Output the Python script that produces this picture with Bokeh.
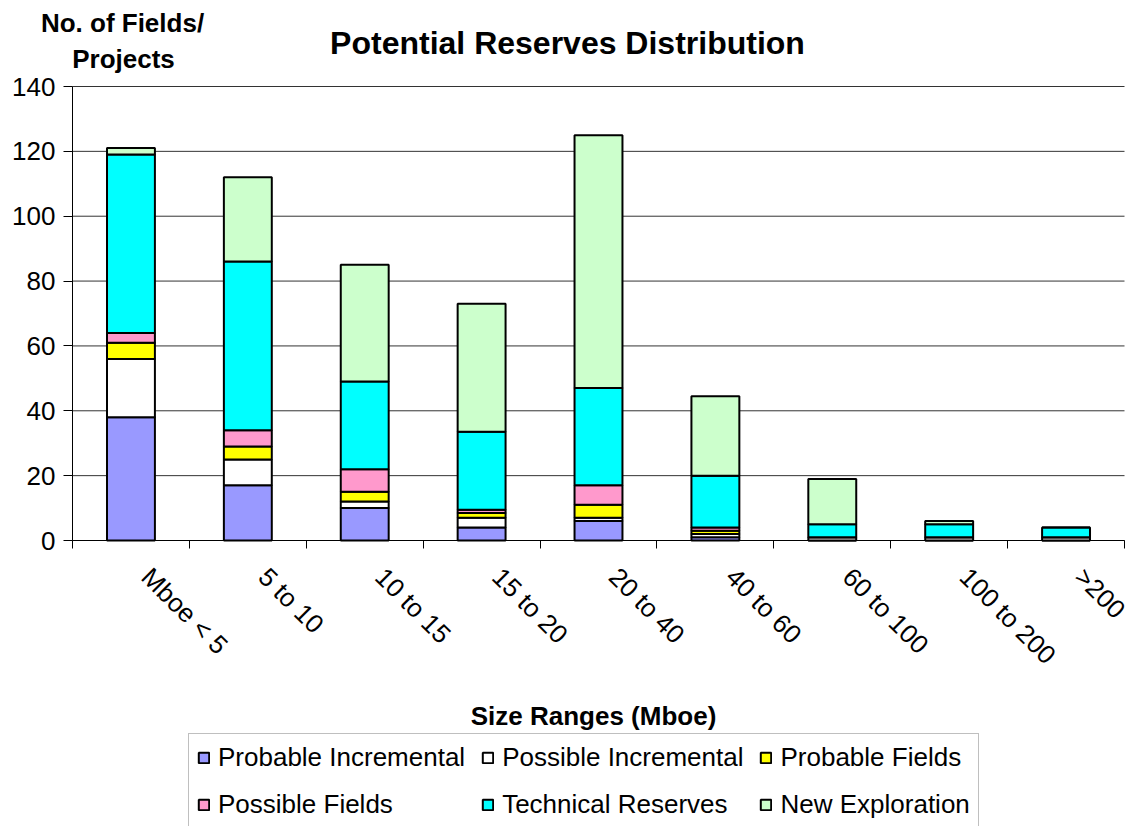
import math
from bokeh.plotting import figure
from bokeh.models import (Range1d, FixedTicker, LinearAxis, Legend, LegendItem, Label)
from bokeh.embed import file_html
from bokeh.resources import INLINE

categories = ["Mboe < 5", "5 to 10", "10 to 15", "15 to 20", "20 to 40",
              "40 to 60", "60 to 100", "100 to 200", ">200"]
probable_incremental = [38, 17, 10, 4, 6, 1, 0, 0, 0]
possible_incremental = [18, 8, 2, 3, 1, 1, 1, 1, 1]
probable_fields = [5, 4, 3, 1.5, 4, 1, 0, 0, 0]
possible_fields = [3, 5, 7, 1, 6, 1, 0, 0, 0]
technical_reserves = [55, 52, 27, 24, 30, 16, 4, 4, 3]
new_exploration = [2, 26, 36, 39.5, 78, 24.5, 14, 1, 0]

series_names = ["Probable Incremental", "Possible Incremental", "Probable Fields",
                "Possible Fields", "Technical Reserves", "New Exploration"]
series_keys = ["pi", "poi", "pf", "pof", "tr", "ne"]
colors = ["#9999FF", "#FFFFFF", "#FFFF00", "#FF99CC", "#00FFFF", "#CCFFCC"]
y_ticks = [0, 20, 40, 60, 80, 100, 120, 140]

FONT = "Liberation Sans"
W, H = 1131, 826
# plot-area placement on the canvas (pixels)
PL, PR, PT, PB = 72, 1124, 86, 540
LABEL_SHIFT = 0.13  # horizontal shift of rotated category labels (in category units)

n = len(categories)
x_lo, x_hi = -0.5, n - 0.5
y_lo, y_hi = y_ticks[0], y_ticks[-1]
ppx = (PR - PL) / (x_hi - x_lo)
ppy = (PB - PT) / (y_hi - y_lo)
x_range = Range1d(x_lo - PL / ppx, x_hi + (W - PR) / ppx)
y_range = Range1d(y_lo - (H - PB) / ppy, y_hi + PT / ppy)

x_idx = list(range(n))
data = dict(x=x_idx, pi=probable_incremental, poi=possible_incremental,
            pf=probable_fields, pof=possible_fields, tr=technical_reserves,
            ne=new_exploration)

p = figure(width=W, height=H, output_backend="svg", toolbar_location=None,
           x_range=x_range, y_range=y_range, title_location=None,
           x_axis_type=None, y_axis_type=None,
           min_border=0, min_border_left=0, min_border_right=0,
           min_border_top=0, min_border_bottom=0)
p.outline_line_color = None
p.background_fill_color = "white"
p.border_fill_color = "white"
p.xgrid.visible = False
p.ygrid.visible = False

# horizontal gridlines across the plot area
p.segment(x0=[x_lo] * len(y_ticks), x1=[x_hi] * len(y_ticks), y0=y_ticks, y1=y_ticks,
          line_color="#333333", line_width=1)

renderers = p.vbar_stack(series_keys, x="x", width=0.41, source=data,
                         fill_color=colors, line_color="black", line_width=2)

# x axis: tick marks between categories, labels near category centres
label_ticks = [i + LABEL_SHIFT for i in x_idx]
xaxis = LinearAxis(ticker=FixedTicker(ticks=label_ticks,
                                      minor_ticks=[i - 0.5 for i in range(n + 1)]),
                   major_label_overrides={t: c for t, c in zip(label_ticks, categories)},
                   fixed_location=0, bounds=(x_lo, x_hi))
xaxis.major_tick_line_color = None
xaxis.major_tick_out = 6
xaxis.major_tick_in = 0
xaxis.minor_tick_out = 8
xaxis.minor_tick_in = 0
xaxis.minor_tick_line_color = "black"
xaxis.axis_line_color = "black"
xaxis.major_label_orientation = -math.pi / 4
xaxis.major_label_text_font = FONT
xaxis.major_label_text_font_size = "26px"
xaxis.major_label_text_color = "black"
xaxis.major_label_standoff = 24
p.add_layout(xaxis, "below")

# y axis
yaxis = LinearAxis(ticker=FixedTicker(ticks=y_ticks, minor_ticks=[]),
                   fixed_location=x_lo, bounds=(y_lo, y_hi))
yaxis.major_tick_out = 9
yaxis.major_tick_in = 0
yaxis.major_tick_line_color = "black"
yaxis.axis_line_color = "black"
yaxis.major_label_text_font = FONT
yaxis.major_label_text_font_size = "26px"
yaxis.major_label_text_color = "black"
yaxis.major_label_standoff = 8
p.add_layout(yaxis, "left")


def add_text(txt, px, py, size, bold=True):
    p.add_layout(Label(x=px, y=H - py, x_units="screen", y_units="screen",
                       text=txt, text_font=FONT, text_font_size=size,
                       text_font_style="bold" if bold else "normal",
                       text_align="center", text_baseline="middle", text_color="black"))


add_text("Potential Reserves Distribution", 567, 42, "32px")
add_text("No. of Fields/", 122, 22, "26px")
add_text("Projects", 123, 58, "26px")
add_text("Size Ranges (Mboe)", 593, 715, "26px")

legend = Legend(items=[LegendItem(label=nm, renderers=[r]) for nm, r in zip(series_names, renderers)],
                location=(188, -3), orientation="horizontal", ncols=3)
legend.label_text_font = FONT
legend.label_text_font_size = "26px"
legend.label_text_color = "black"
legend.glyph_width = 13
legend.glyph_height = 13
legend.label_standoff = 8
legend.spacing = 16
legend.padding = 8
legend.margin = 0
legend.border_line_color = "#808080"
legend.border_line_width = 1
legend.background_fill_color = "white"
legend.background_fill_alpha = 1
p.add_layout(legend, "center")

open("out.html", "w").write(file_html(p, INLINE))
